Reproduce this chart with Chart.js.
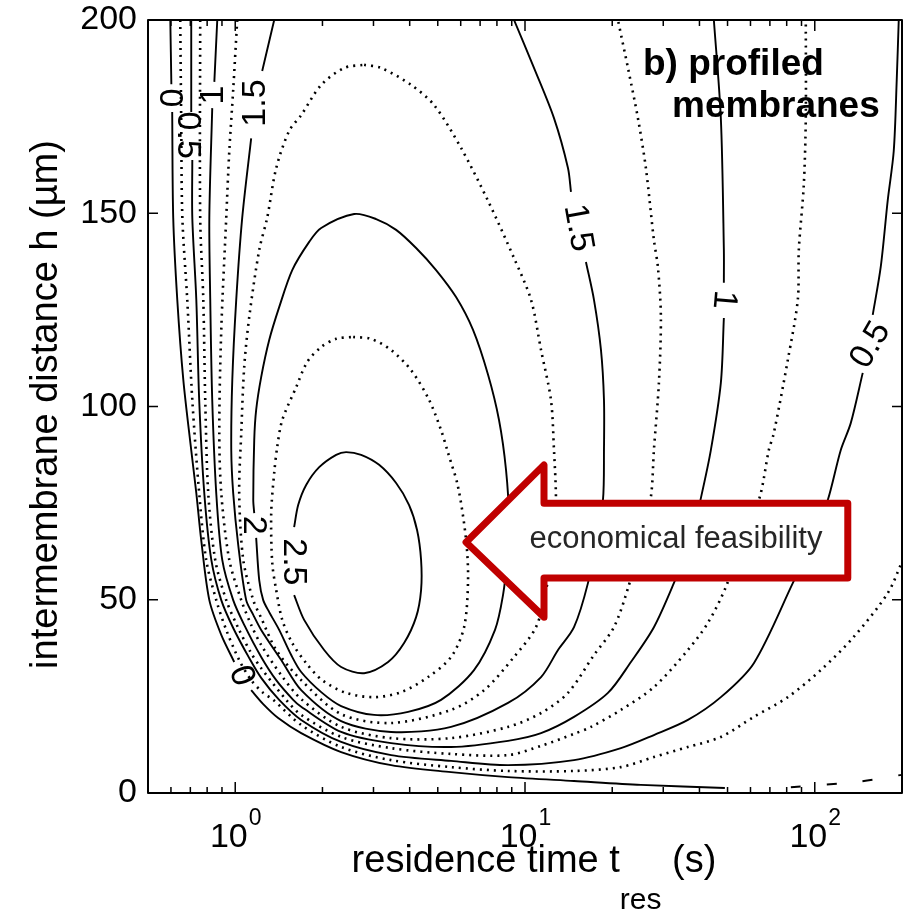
<!DOCTYPE html>
<html>
<head>
<meta charset="utf-8">
<script src="https://cdn.jsdelivr.net/npm/chart.js@4.4.0/dist/chart.umd.min.js"></script>
<style>
  body { margin: 0; background: #fff; }
</style>
</head>
<body>
<canvas id="chart" width="906" height="920"></canvas>
<script>
// Contour lines: each point is [residence time t (s), distance h (µm)].
// null breaks the line where a contour label sits.
const level0 = [[0.597,200],[0.602,183.4],null,
  [0.606,176.2],[0.611,148.8],[0.631,127.6],[0.662,106.9],[0.705,88.7],[0.734,77.6],[0.763,65.5],[0.814,49.9],[0.895,40.9],[0.992,33.9],null,
  [1.135,26.6],[1.249,23.0],[1.407,19.4],[1.689,15.5],[2.32,10.6],[3.451,7.2],[5.557,5.4],[8.738,4.1],[14.76,3.1],[25.12,2.1],[48.95,1.3]];
const level0Right = [[82.7,1.5],[140.7,2.9],[200,4.7]];
const level025 = [[0.646,200],[0.651,174.1],[0.657,148.8],[0.683,127.6],[0.711,101.7],[0.751,77.6],[0.794,60.3],[0.860,49.9],[0.931,42.2],[1.032,34.4],[1.135,29.2],[1.249,25.9],[1.352,24.1],[1.689,17.6],[2.32,11.9],[3.451,8.5],[5.557,6.7],[8.738,5.7],[14.76,5.7],[21.43,6.7],[27.85,9.3],[36.49,11.9],[47.41,14.5],[61.62,19.7],[80.7,24.8],[104.9,31.8],[136.3,40.4],[178.6,51.7],[200,59.8]];
const level05 = [[0.705,200],[0.705,176.2],null,
  [0.711,163.8],[0.711,148.8],[0.734,127.6],[0.751,101.7],[0.782,77.6],[0.827,60.3],[0.895,49.9],[0.984,42.7],[1.118,34.9],[1.229,29.8],[1.418,24.1],[1.689,18.9],[2.32,13.2],[3.451,9.8],[5.557,8.3],[8.738,7.2],[14.76,8.5],[21.43,11.6],[27.85,15.0],[36.49,18.9],[47.41,24.8],[61.62,33.6],[83.97,54.3],[96.88,64.2],[110.9,75.8],[122.9,88.7],[133.1,95.7],[146.4,108.7],null,
  [158.5,123.7],[168.9,136.1],[178.6,153.4],[187.3,166.1],[191.8,184.5],[194.9,200]];
const level075 = [[0.757,200],[0.757,148.8],[0.776,127.6],[0.788,101.7],[0.807,77.6],[0.853,60.3],[0.931,49.9],[1.024,42.7],[1.135,36.2],[1.229,32.3],[1.499,24.1],[1.689,20.2],[2.32,14.5],[3.451,11.6],[5.557,10.1],[8.738,9.8],[11.36,12.2],[14.76,15.3],[16.89,17.1],[21.43,21.5],[27.85,27.4],[36.49,37.0],[42.76,44.0],[49.34,53.3],[57.83,68.0],[64.61,76.6],[69.4,88.7],[72.21,93.1],[80.7,112.0],[87.38,127.6],[88.08,140.5],[91.64,157.3],[93.11,174.6],[93.11,200]];
const level1 = [[0.867,200],[0.847,184.0],null,
  [0.833,177.2],[0.814,148.8],[0.82,127.6],[0.833,101.7],[0.860,77.6],[0.902,60.3],[0.984,49.9],[1.074,43.5],[1.229,35.2],[1.385,29.2],[1.585,24.1],[1.689,22.3],[2.32,15.8],[3.451,12.9],[5.557,11.9],[8.738,13.5],[11.36,15.5],[14.76,19.7],[19.33,25.9],[23.2,33.9],[27.85,42.9],[32.64,54.3],[37.36,65.5],[40.45,76.3],[43.79,88.7],[47.41,106.1],[48.56,122.9],null,
  [48.56,132.0],[48.56,140.5],[47.41,174.6],[44.85,200]];
const level125 = [[1.016,200],[0.984,181.9],[0.954,166.1],[0.931,148.8],[0.895,119.8],[0.881,93.9],[0.895,77.6],[0.954,60.3],[1.049,49.9],[1.135,43.5],[1.229,38.3],[1.441,30.5],[1.689,24.3],[2.32,17.1],[3.451,14.2],[5.557,14.2],[8.738,17.1],[11.36,20.7],[14.07,25.9],[17.3,35.7],[20.27,42.9],[22.84,53.8],[25.12,65.5],[27.19,76.6],[27.85,88.7],[28.98,106.1],[29.44,123.2],[28.75,136.1],[27.85,143.1],[26.13,161.7],[24.53,174.6],[22.66,187.6],[20.93,200]];
const level15 = [[1.363,200],[1.239,186.8],null,
  [1.135,169.4],[1.057,148.8],[1.008,127.6],[0.977,106.9],[0.969,88.7],[0.984,77.6],[1.024,64.2],[1.091,49.9],[1.154,46.1],[1.229,42.2],[1.441,34.4],[1.689,26.6],[2.32,18.6],[3.451,15.8],[5.557,17.1],[8.738,23.3],[11.36,30.0],[13.0,37.0],[14.76,42.9],[16.49,54.3],[17.57,65.5],[18.58,75.8],[18.73,88.7],[18.73,101.7],[18.29,114.6],[17.3,127.6],[16.23,137.4],null,
  [14.41,155.5],[14.07,161.7],[12.59,174.6],[10.74,187.6],[9.165,200]];
const level175 = [[2.785,188.4],[3.187,187.6],[4.045,183.2],[4.856,178.0],[6.016,166.9],[7.456,153.2],[9.165,138.4],[10.49,127.6],[11.36,114.6],[12.29,101.7],[12.59,88.7],[12.79,75.8],[12.59,65.5],[11.82,52.5],[10.91,42.9],[9.165,35.2],[7.223,26.6],[5.557,21.5],[3.451,18.1],[2.32,20.4],[1.689,29.2],[1.385,37.0],[1.229,45.3],[1.154,49.9],[1.066,60.3],[1.032,77.6],[1.049,93.1],[1.074,110.2],[1.118,123.2],[1.21,140.5],[1.289,148.8],[1.385,161.7],[1.535,171.3],[1.689,175.4],[1.98,183.2],[2.376,187.6],[2.785,188.4]];
const level2 = [[1.181,66.0],[1.21,55.1],[1.249,49.9],[1.31,46.8],[1.418,42.2],[1.56,35.7],[1.689,31.3],[1.98,26.1],[2.32,22.5],[3.015,20.2],[3.95,21.0],[5.132,24.1],[6.669,31.8],[7.88,42.2],[8.397,51.2],[8.668,60.3],[8.807,70.6],[8.6,83.6],[8.134,96.5],[7.456,108.2],[6.617,119.8],[5.782,128.3],[4.933,135.3],[4.209,141.0],[3.591,145.7],[3.064,148.5],[2.573,149.8],[1.98,146.2],[1.8,142.6],[1.573,135.3],[1.418,125.7],[1.31,117.2],[1.229,107.6],[1.181,99.1],[1.163,91.3],[1.154,75.8],[1.163,72.4]];
const level225 = [[2.553,118.0],[2.944,117.5],[3.451,114.6],[4.045,109.4],[4.667,101.7],[5.132,93.9],[5.426,88.0],[5.875,79.2],[6.261,65.5],[6.36,55.1],[6.163,42.9],[5.557,35.2],[4.63,30.0],[3.736,26.1],[3.015,24.8],[2.414,25.9],[1.995,29.2],[1.757,33.6],[1.573,38.8],[1.453,44.8],[1.385,52.5],[1.342,59.5],[1.331,72.4],[1.363,82.8],[1.396,89.5],[1.453,96.5],[1.623,105.0],[1.771,111.5],[1.98,115.4],[2.23,117.5],[2.553,118.0]];
const level25 = [[1.597,51.2],[1.729,44.8],[2.027,37.0],[2.32,32.6],[2.785,31.0],[3.37,33.9],[3.826,38.8],[4.209,45.5],[4.379,52.5],[4.379,60.3],[4.243,68.0],[3.981,74.5],[3.591,80.2],[3.137,84.9],[2.719,87.5],[2.414,88.2],[2.23,87.5],[1.949,84.3],[1.757,79.7],[1.649,74.5],[1.597,68.8]];

// contour labels
const labelText = ['0', '0.5', '1', '1.5', '2', '2.5', '0', '1.5', '1', '0.5'];
const labelT = [0.592, 0.683, 0.84, 1.172, 1.154, 1.585, 1.049, 15.23, 48.56, 156.0];
const labelH = [179.8, 170.2, 180.6, 178.5, 69.3, 59.8, 30.3, 146.2, 127.6, 115.9];
const labelRot = [90, 90, -90, -90, 90, 90, 70, 80, 95, -60];

// arrow outline (t, h) and its text
const arrowT = [6.26, 11.63, 11.63, 130, 130, 11.63, 11.63];
const arrowH = [64.9, 84.9, 75.0, 75.0, 55.6, 55.6, 45.5];
const noteText = 'economical feasibility';
const noteT = 33.2;
const noteH = 63.4;

// axes
const yTicks = [0, 50, 100, 150, 200];
const xDecades = [0, 1, 2];
const xMinor = [0.6, 0.7, 0.8, 0.9, 2, 3, 4, 5, 6, 7, 8, 9, 20, 30, 40, 50, 60, 70, 80, 90];

const FONT = "'Liberation Sans', Arial, Helvetica, sans-serif";

function toPoints(arr) {
    return arr.map(function(p) { return p ? { x: p[0], y: p[1] } : { x: null, y: null }; });
}

function contour(name, arr, style) {
    return {
        label: name,
        data: toPoints(arr),
        showLine: true,
        borderColor: '#000',
        borderWidth: style === 'dot' ? 2.6 : 1.9,
        borderDash: style === 'dot' ? [2, 5] : (style === 'dash' ? [10, 26] : []),
        borderCapStyle: 'butt',
        pointRadius: 0,
        tension: 0.3,
        spanGaps: false
    };
}

// Labels, arrow, box, ticks and axis titles
var extras = {
    id: 'extras',
    afterDatasetsDraw: function(chart) {
        var ctx = chart.ctx, a = chart.chartArea;
        var xs = chart.scales.x, ys = chart.scales.y;
        ctx.save();

        // contour labels
        ctx.fillStyle = '#000';
        ctx.font = '34px ' + FONT;
        ctx.textAlign = 'center';
        ctx.textBaseline = 'middle';
        for (var i = 0; i < labelText.length; i++) {
            ctx.save();
            ctx.translate(xs.getPixelForValue(labelT[i]), ys.getPixelForValue(labelH[i]));
            ctx.rotate(labelRot[i] * Math.PI / 180);
            ctx.fillText(labelText[i], 0, 0);
            ctx.restore();
        }

        // arrow
        ctx.beginPath();
        arrowT.forEach(function(t, k) {
            var px = xs.getPixelForValue(t), py = ys.getPixelForValue(arrowH[k]);
            if (k === 0) ctx.moveTo(px, py); else ctx.lineTo(px, py);
        });
        ctx.closePath();
        ctx.fillStyle = '#fff';
        ctx.fill();
        ctx.lineWidth = 7;
        ctx.lineJoin = 'round';
        ctx.strokeStyle = '#c00000';
        ctx.stroke();
        ctx.fillStyle = '#262626';
        ctx.font = '31px ' + FONT;
        ctx.textAlign = 'center';
        ctx.textBaseline = 'alphabetic';
        ctx.fillText(noteText, xs.getPixelForValue(noteT), ys.getPixelForValue(noteH));

        // panel title
        ctx.fillStyle = '#000';
        ctx.font = 'bold 37px ' + FONT;
        ctx.textAlign = 'left';
        ctx.fillText('b) profiled', a.right - 259, a.top + 55);
        ctx.fillText('membranes', a.right - 230, a.top + 97);

        // box
        ctx.strokeStyle = '#000';
        ctx.lineWidth = 2;
        ctx.strokeRect(a.left, a.top, a.right - a.left, a.bottom - a.top);

        // tick marks (inside, mirrored)
        ctx.lineWidth = 1.5;
        ctx.beginPath();
        xDecades.forEach(function(d) {
            var px = xs.getPixelForValue(Math.pow(10, d));
            ctx.moveTo(px, a.bottom); ctx.lineTo(px, a.bottom - 11);
            ctx.moveTo(px, a.top); ctx.lineTo(px, a.top + 11);
        });
        xMinor.forEach(function(v) {
            var px = xs.getPixelForValue(v);
            ctx.moveTo(px, a.bottom); ctx.lineTo(px, a.bottom - 6);
            ctx.moveTo(px, a.top); ctx.lineTo(px, a.top + 6);
        });
        yTicks.forEach(function(v) {
            var py = ys.getPixelForValue(v);
            ctx.moveTo(a.left, py); ctx.lineTo(a.left + 10, py);
            ctx.moveTo(a.right, py); ctx.lineTo(a.right - 10, py);
        });
        ctx.stroke();

        // x tick labels 10^d
        ctx.fillStyle = '#000';
        ctx.textAlign = 'left';
        ctx.textBaseline = 'alphabetic';
        xDecades.forEach(function(d) {
            var px = xs.getPixelForValue(Math.pow(10, d));
            ctx.font = '34px ' + FONT;
            var w1 = ctx.measureText('10').width;
            ctx.font = '23px ' + FONT;
            var w2 = ctx.measureText(String(d)).width;
            var x0 = px - (w1 + w2) / 2;
            ctx.font = '34px ' + FONT;
            ctx.fillText('10', x0, a.bottom + 54);
            ctx.font = '23px ' + FONT;
            ctx.fillText(String(d), x0 + w1 + 1, a.bottom + 32);
        });

        // x title with subscript
        var parts = [['residence time t', 38, 79], ['res', 30, 116], [' (s)', 38, 79]];
        var total = 0;
        parts.forEach(function(p) { ctx.font = p[1] + 'px ' + FONT; p.push(ctx.measureText(p[0]).width); total += p[3]; });
        var cx = (a.left + a.right) / 2 + 9 - total / 2;
        parts.forEach(function(p) {
            ctx.font = p[1] + 'px ' + FONT;
            ctx.fillText(p[0], cx, a.bottom + p[2]);
            cx += p[3];
        });

        // y title
        ctx.save();
        ctx.translate(57, (a.top + a.bottom) / 2 - 2);
        ctx.rotate(-Math.PI / 2);
        ctx.textAlign = 'center';
        ctx.font = '38px ' + FONT;
        ctx.fillText('intermembrane distance h (\u00b5m)', 0, 0);
        ctx.restore();

        ctx.restore();
    }
};

var chart = new Chart(document.getElementById('chart').getContext('2d'), {
    type: 'scatter',
    data: {
        datasets: [
            contour('0', level0, 'solid'),
            contour('0 right', level0Right, 'dash'),
            contour('0.25', level025, 'dot'),
            contour('0.5', level05, 'solid'),
            contour('0.75', level075, 'dot'),
            contour('1', level1, 'solid'),
            contour('1.25', level125, 'dot'),
            contour('1.5', level15, 'solid'),
            contour('1.75', level175, 'dot'),
            contour('2', level2, 'solid'),
            contour('2.25', level225, 'dot'),
            contour('2.5', level25, 'solid')
        ]
    },
    options: {
        responsive: false,
        animation: false,
        events: [],
        layout: { padding: { left: 0, top: 20, right: 4, bottom: 0 } },
        plugins: { legend: { display: false }, tooltip: { enabled: false } },
        scales: {
            x: {
                type: 'logarithmic',
                min: 0.5,
                max: 200,
                grid: { display: false },
                border: { display: false },
                ticks: { display: false },
                afterFit: function(s) { s.height = 127; s.paddingLeft = 0; s.paddingRight = 0; }
            },
            y: {
                min: 0,
                max: 200,
                grid: { display: false, drawTicks: false },
                border: { display: false },
                ticks: {
                    stepSize: 50,
                    padding: 11,
                    color: '#000',
                    font: { family: FONT, size: 34 }
                },
                afterFit: function(s) { s.width = 148; s.paddingTop = 0; s.paddingBottom = 0; }
            }
        }
    },
    plugins: [extras]
});
</script>
</body>
</html>
